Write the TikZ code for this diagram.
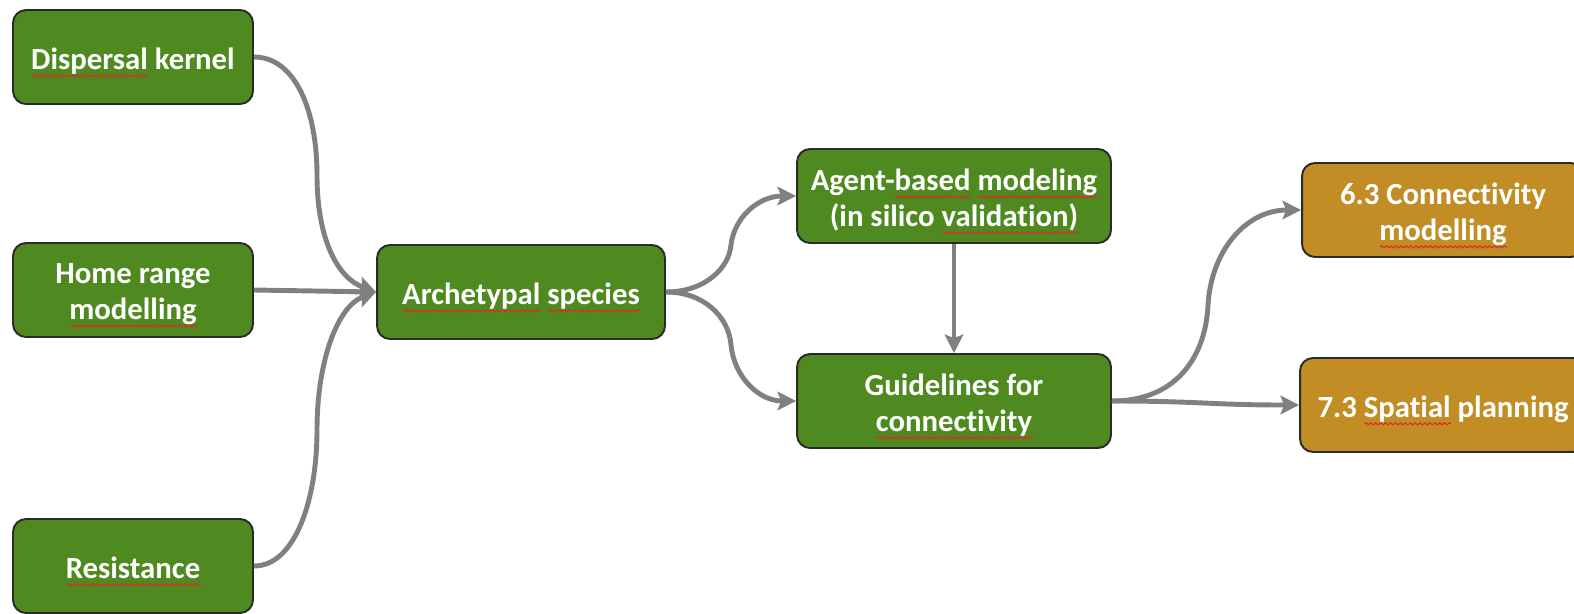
\documentclass[tikz,border=0pt]{standalone}
\usepackage{fontspec}
\setmainfont{Carlito}[Ligatures={NoCommon,NoRare,NoContextual}]
\usetikzlibrary{arrows.meta,decorations.pathmorphing}
\definecolor{boxgreen}{HTML}{4E8A1F}
\definecolor{boxgold}{HTML}{C18D24}
\definecolor{boxline}{HTML}{2A2A2A}
\definecolor{arrgray}{HTML}{808080}
\definecolor{sqred}{HTML}{E02A2A}
\newcommand\sqw[1]{\setbox0\hbox{#1}\rlap{\begin{tikzpicture}[baseline=0pt]\draw[sqred,line width=0.6pt,sharp corners,decorate,decoration={snake,amplitude=0.6pt,segment length=2.8pt}] (0pt,-3.8pt) -- (\the\wd0,-3.8pt);\end{tikzpicture}}\box0\relax}
\tikzset{
  card/.style={draw=boxline,line width=1.1pt,rounded corners=0.26cm,
    minimum height=1.88cm,inner sep=0pt},
  gcard/.style={card,fill=boxgreen},
  ycard/.style={card,fill=boxgold},
  txt/.style={text=white,align=center,inner sep=0pt,
    font=\fontsize{17.5}{20.5}\selectfont\bfseries},
  conn/.style={draw=arrgray,line width=2.8pt,
    -{Stealth[length=10.5pt,width=10.5pt,inset=2pt]}},
}
\begin{document}
\begin{tikzpicture}[x=0.02cm,y=-0.02cm]
\useasboundingbox (0,0) rectangle (1574,613);
\clip (0,0) rectangle (1574,613);
\node[gcard,minimum width=4.8cm] (disp) at (133,57) {};
\node[gcard,minimum width=4.8cm] (home) at (133,290) {};
\node[gcard,minimum width=4.8cm] (resist) at (133,566) {};
\node[gcard,minimum width=5.76cm] (arch) at (521,292) {};
\node[gcard,minimum width=6.28cm] (agent) at (954,196) {};
\node[gcard,minimum width=6.28cm] (guide) at (954,401) {};
\node[ycard,minimum width=5.64cm] (cmod) at (1443,210) {};
\node[ycard,minimum width=5.72cm] (spat) at (1443,405) {};
\node[txt] (dispT) at ([yshift=-0.11cm]disp.center) {\sqw{Dispersal} kernel};
\node[txt] (homeT) at ([yshift=-0.11cm]home.center) {Home range\\\sqw{modelling}};
\node[txt] (resistT) at ([yshift=-0.11cm]resist.center) {\sqw{Resistance}};
\node[txt] (archT) at ([yshift=-0.11cm]arch.center) {\sqw{Archetypal} \sqw{species}};
\node[txt] (agentT) at ([yshift=-0.11cm]agent.center) {Agent-\sqw{based} \sqw{modeling}\\(in silico \sqw{validation)}};
\node[txt] (guideT) at ([yshift=-0.11cm]guide.center) {Guidelines for\\\sqw{connectivity}};
\node[txt] (cmodT) at ([yshift=-0.11cm]cmod.center) {6.3 Connectivity\\\sqw{modelling}};
\node[txt] (spatT) at ([yshift=-0.11cm]spat.center) {7.3 \sqw{Spatial} planning};
\draw[conn] (disp.east) .. controls (295,57) and (317,110) .. (317,175) .. controls (317,240) and (338,278) .. (arch.west);
\draw[conn] (home.east) -- (arch.west);
\draw[conn] (resist.east) .. controls (295,566) and (317,500) .. (317,430) .. controls (317,360) and (338,306) .. (arch.west);
\draw[conn] (arch.east) .. controls (705,292) and (729,268) .. (731,245) .. controls (734,218) and (758,196) .. (agent.west);
\draw[conn] (arch.east) .. controls (705,292) and (729,318) .. (731,345) .. controls (734,376) and (758,401) .. (guide.west);
\draw[conn] (agent.south) -- (guide.north);
\draw[conn] (guide.east) .. controls (1180,401) and (1206,352) .. (1208,305) .. controls (1211,252) and (1245,210) .. (cmod.west);
\draw[conn] (guide.east) .. controls (1200,401) and (1210,405) .. (spat.west);
\end{tikzpicture}
\end{document}
